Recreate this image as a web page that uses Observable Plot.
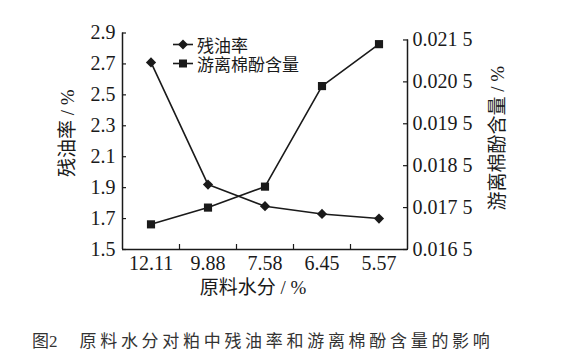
<!DOCTYPE html>
<html><head><meta charset="utf-8">
<script src="https://cdn.jsdelivr.net/npm/d3@7"></script>
<script src="https://cdn.jsdelivr.net/npm/@observablehq/plot@0.6"></script>
<style>
body{margin:0;background:#fff;}
#wrap{position:relative;width:567px;height:361px;background:#fff;color:#1a1a1a;}
#legend{position:absolute;left:173px;top:35px;font-family:"Liberation Serif","Noto Sans CJK SC",serif;font-size:17px;}
#legend .row{display:flex;align-items:center;height:19px;}
#legend svg{margin-right:4px;}
#caption{position:absolute;left:32px;top:332px;font-family:"Liberation Serif","Noto Sans CJK SC",serif;font-size:17px;line-height:20px;color:#333;white-space:nowrap;}
#caption .t{margin-left:22px;letter-spacing:3.7px;}
</style></head><body>
<div id="wrap">
<div id="chart"></div>
<div id="legend"></div>
<div id="caption"></div>
</div>
<script>
// ---- data ----
const moisture = ["12.11", "9.88", "7.58", "6.45", "5.57"];
const oilResidue = [2.71, 1.92, 1.78, 1.73, 1.70];
const freeGossypol = [0.0171, 0.0175, 0.0180, 0.0204, 0.0214];
const leftTicks = [1.5, 1.7, 1.9, 2.1, 2.3, 2.5, 2.7, 2.9];
const rightTicks = [0.0165, 0.0175, 0.0185, 0.0195, 0.0205, 0.0215];
const rightTickLabels = ["0.016 5", "0.017 5", "0.018 5", "0.019 5", "0.020 5", "0.021 5"];
const seriesNames = ["残油率", "游离棉酚含量"];
const xTitle = "原料水分 / %";
const yLeftTitle = "残油率 / %";
const yRightTitle = "游离棉酚含量 / %";
const captionFig = "图2";
const captionText = "原料水分对粕中残油率和游离棉酚含量的影响";

// ---- scales setup ----
const yMin = 1.5, yMax = 2.9;
const rMin = 0.0165, rMax = 0.0215;
const rightTopOnLeft = 2.855; // position of the right axis top on the left scale
const toLeft = v => yMin + (v - rMin) / (rMax - rMin) * (rightTopOnLeft - yMin);
const rows = moisture.map((m, i) => ({pos: i + 0.5, m, oil: oilResidue[i], gos: toLeft(freeGossypol[i])}));
const rightPos = rightTicks.map(toLeft);
const rightMap = new Map(rightPos.map((v, i) => [v, rightTickLabels[i]]));
const bandEdges = d3.range(1, moisture.length);

const serif = '"Liberation Serif","Noto Sans CJK SC",serif';
const titleOpts = {text: d => d, textAnchor: "middle", lineAnchor: "middle", fontSize: 19};
const chart = Plot.plot({
  width: 567, height: 310,
  marginLeft: 122, marginRight: 160, marginTop: 32.5, marginBottom: 61,
  style: {fontFamily: serif, fontSize: "20px", color: "#1a1a1a", background: "#fff", overflow: "visible"},
  x: {domain: [0, moisture.length], axis: null, label: null},
  y: {domain: [yMin, yMax], axis: null, label: null},
  marks: [
    Plot.ruleX([0], {y1: yMin, y2: yMax, strokeWidth: 1.5}),
    Plot.ruleX([moisture.length], {y1: yMin, y2: rightTopOnLeft, strokeWidth: 1.5}),
    Plot.ruleY([yMin], {x1: 0, x2: moisture.length, strokeWidth: 1.5}),
    Plot.axisY(leftTicks, {anchor: "left", tickSize: 0, tickPadding: 7, label: null, tickFormat: d => d.toFixed(1)}),
    Plot.axisY(leftTicks, {anchor: "left", tickSize: -4, fill: "none", label: null, strokeWidth: 1.2}),
    Plot.axisY(rightPos, {anchor: "right", tickSize: 0, tickPadding: 5, label: null, tickFormat: d => rightMap.get(d)}),
    Plot.axisY(rightPos, {anchor: "right", tickSize: -5, fill: "none", label: null, strokeWidth: 1.2}),
    Plot.axisX(rows.map(d => d.pos), {anchor: "bottom", tickSize: 0, tickPadding: 6, label: null, tickFormat: d => moisture[Math.floor(d)]}),
    Plot.axisX(bandEdges, {anchor: "bottom", tickSize: -5, fill: "none", label: null, strokeWidth: 1.2}),
    Plot.line(rows, {x: "pos", y: "oil", strokeWidth: 1.6}),
    Plot.dot(rows, {x: "pos", y: "oil", symbol: "diamond2", r: 4.6, fill: "currentColor"}),
    Plot.line(rows, {x: "pos", y: "gos", strokeWidth: 1.6}),
    Plot.dot(rows, {x: "pos", y: "gos", symbol: "square", r: 4.6, fill: "currentColor"}),
    Plot.text([xTitle], {...titleOpts, frameAnchor: "bottom", dx: -12, dy: 38}),
    Plot.text([yLeftTitle], {...titleOpts, frameAnchor: "left", dx: -55, dy: -8, rotate: -90}),
    Plot.text([yRightTitle], {...titleOpts, frameAnchor: "right", dx: 90, dy: -3, rotate: -90})
  ]
});
document.getElementById("chart").appendChild(chart);

// ---- legend ----
const sym = [
  '<path d="M10,4.5L15,9.5L10,14.5L5,9.5Z" fill="#1a1a1a"/>',
  '<rect x="6" y="5.5" width="8" height="8" fill="#1a1a1a"/>'
];
document.getElementById("legend").innerHTML = seriesNames.map((n, i) =>
  `<div class="row"><svg width="20" height="19"><line x1="0" x2="20" y1="9.5" y2="9.5" stroke="#1a1a1a" stroke-width="1.6"/>${sym[i]}</svg><span>${n}</span></div>`
).join("");

// ---- caption ----
document.getElementById("caption").innerHTML = `<span>${captionFig}</span><span class="t">${captionText}</span>`;
</script>
</body></html>
